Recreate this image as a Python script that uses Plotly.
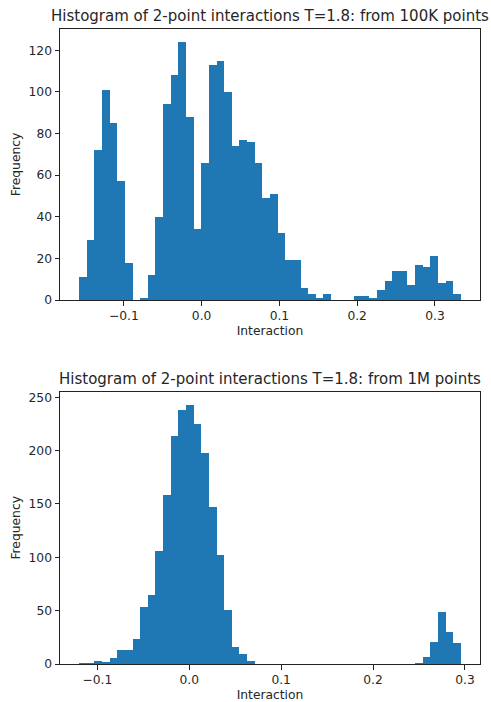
import plotly.graph_objects as go

# ---- data ----
top_title = "Histogram of 2-point interactions T=1.8: from 100K points"
top_bin_start = -0.1576
top_bin_width = 0.00982
top_counts = [11, 29, 72, 101, 85, 57, 18, 0, 1, 12,
              40, 94, 108, 124, 88, 34, 66, 113, 115, 100,
              74, 77, 76, 66, 49, 51, 32, 19, 19, 6,
              3, 1, 3, 0, 0, 0, 2, 2, 1, 5,
              9, 14, 14, 7, 17, 16, 21, 8, 9, 3]

bot_title = "Histogram of 2-point interactions T=1.8: from 1M points"
bot_bin_start = -0.1199
bot_bin_width = 0.00831
bot_counts = [1, 1, 3, 2, 6, 13, 13, 24, 54, 65,
              106, 159, 214, 238, 243, 225, 198, 147, 102, 51,
              16, 10, 3, 0, 0, 0, 0, 0, 0, 0,
              0, 0, 0, 0, 0, 0, 0, 0, 0, 0,
              0, 0, 0, 0, 1, 7, 21, 49, 30, 20]

x_tickvals = [-0.1, 0.0, 0.1, 0.2, 0.3]
x_ticktext = ["\u22120.1", "0.0", "0.1", "0.2", "0.3"]
top_yticks = [0, 20, 40, 60, 80, 100, 120]
bot_yticks = [0, 50, 100, 150, 200, 250]

W, H = 491, 702
BLUE = "#1f77b4"
FONT = "DejaVu Sans"
TXT = "#262626"
TICK_SIZE = 12.3
TITLE_SIZE = 15


def centers(start, width, n):
    return [start + (i + 0.5) * width for i in range(n)]


def xrange_of(start, width, n):
    span = width * n
    return [start - 0.05 * span, start + span + 0.05 * span]


fig = go.Figure()
fig.add_trace(go.Bar(x=centers(top_bin_start, top_bin_width, len(top_counts)),
                     y=top_counts, width=top_bin_width,
                     marker=dict(color=BLUE, line=dict(width=0)),
                     xaxis="x", yaxis="y", showlegend=False))
fig.add_trace(go.Bar(x=centers(bot_bin_start, bot_bin_width, len(bot_counts)),
                     y=bot_counts, width=bot_bin_width,
                     marker=dict(color=BLUE, line=dict(width=0)),
                     xaxis="x2", yaxis="y2", showlegend=False))

xdom = [60 / W, 480 / W]
ydom_top = [1 - 300 / H, 1 - 29 / H]
ydom_bot = [1 - 664 / H, 1 - 391.7 / H]

axis_common = dict(showline=True, mirror=True, linecolor="#222", linewidth=1,
                   ticks="outside", ticklen=4.5, tickcolor="#222", tickwidth=1,
                   showgrid=False, zeroline=False, automargin=False,
                   tickfont=dict(family=FONT, size=TICK_SIZE, color=TXT))
lab_font = dict(family=FONT, size=TICK_SIZE, color=TXT)

fig.update_layout(
    width=W, height=H,
    margin=dict(l=0, r=0, t=0, b=0, autoexpand=False),
    paper_bgcolor="white", plot_bgcolor="white",
    bargap=0,
    font=dict(family=FONT, size=TICK_SIZE, color=TXT),
    xaxis=dict(domain=xdom, anchor="y", range=xrange_of(top_bin_start, top_bin_width, len(top_counts)),
               tickvals=x_tickvals, ticktext=x_ticktext,
               title=dict(text="Interaction", font=lab_font, standoff=4),
               **axis_common),
    yaxis=dict(domain=ydom_top, anchor="x", range=[0, max(top_counts) * 1.05],
               tickvals=top_yticks,
               title=dict(text="Frequency", font=lab_font, standoff=5),
               **axis_common),
    xaxis2=dict(domain=xdom, anchor="y2", range=xrange_of(bot_bin_start, bot_bin_width, len(bot_counts)),
                tickvals=x_tickvals, ticktext=x_ticktext,
                title=dict(text="Interaction", font=lab_font, standoff=4),
                **axis_common),
    yaxis2=dict(domain=ydom_bot, anchor="x2", range=[0, max(bot_counts) * 1.05],
                tickvals=bot_yticks,
                title=dict(text="Frequency", font=lab_font, standoff=5),
                **axis_common),
)

for title, dom in [(top_title, ydom_top), (bot_title, ydom_bot)]:
    fig.add_annotation(text=title, xref="paper", yref="paper",
                       x=(xdom[0] + xdom[1]) / 2, y=dom[1],
                       xanchor="center", yanchor="bottom", yshift=2,
                       showarrow=False, font=dict(family=FONT, size=TITLE_SIZE, color=TXT))

fig.write_html("out.html", config={"displayModeBar": False},
               post_script="document.body.style.margin='0px';document.body.style.overflow='hidden';")
